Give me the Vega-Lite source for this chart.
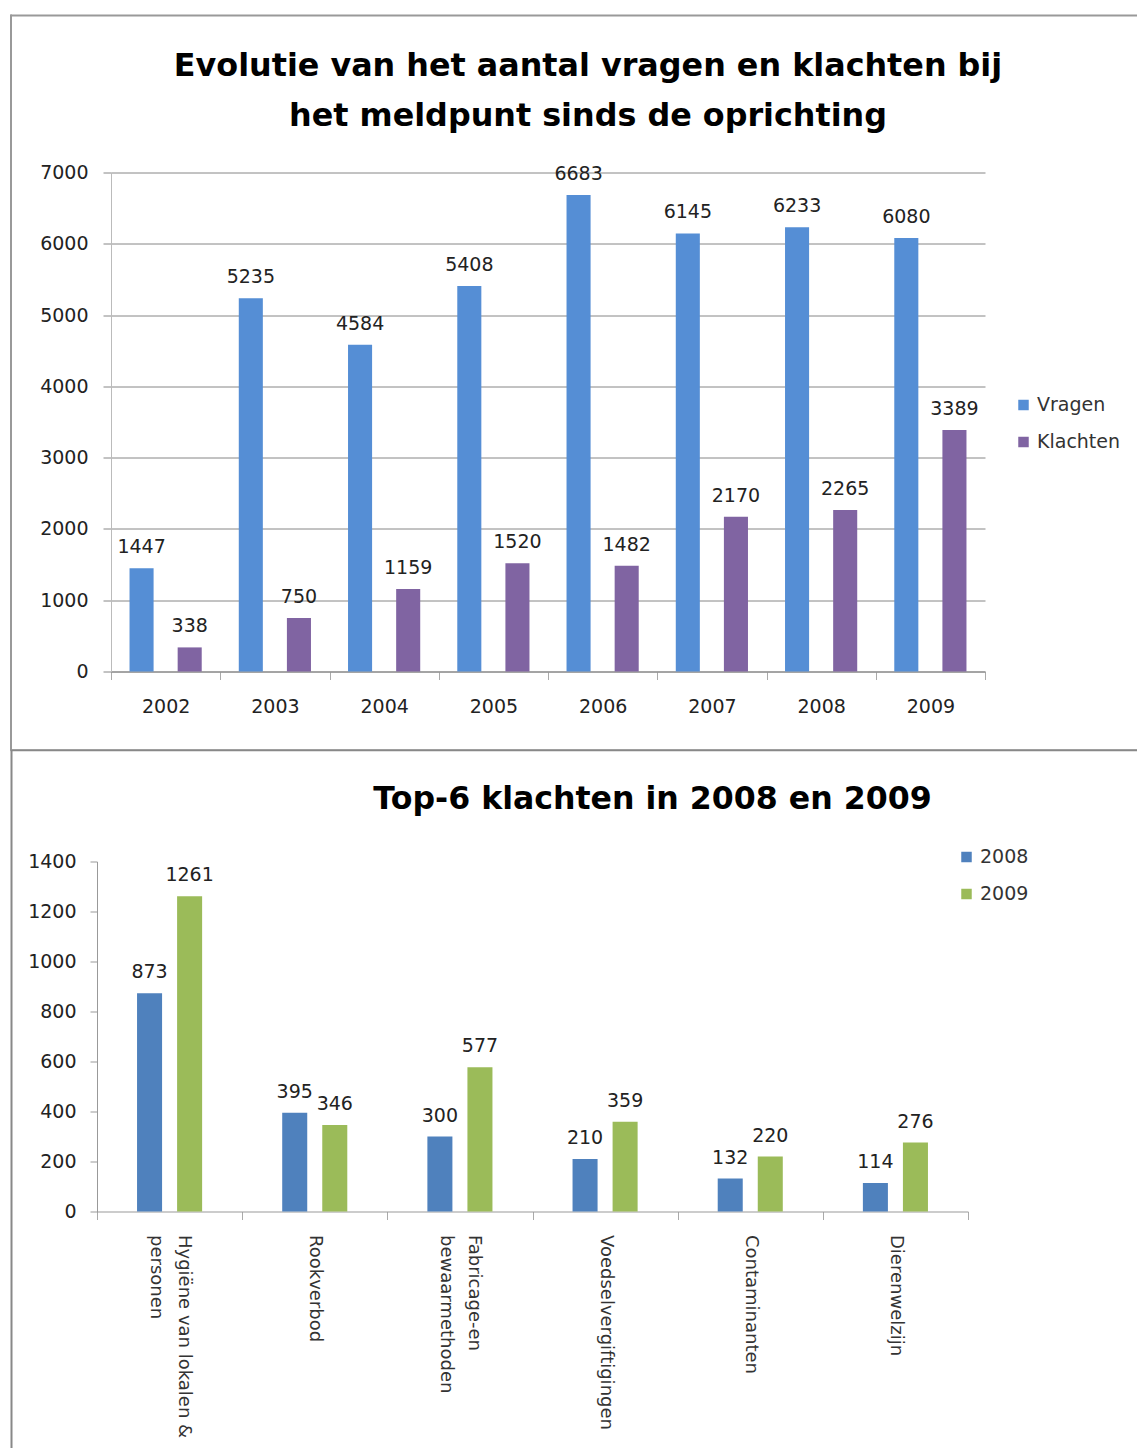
{
  "$schema": "https://vega.github.io/schema/vega-lite/v6.json",
  "background": "white",
  "padding": {"left": 0, "top": 13.5, "right": 0, "bottom": 0},
  "spacing": 0,
  "config": {
    "view": {"stroke": null},
    "axis": {"labelFont": "DejaVu Sans", "labelFontSize": 19, "labelColor": "#222", "title": null},
    "legend": {"labelFont": "DejaVu Sans", "labelFontSize": 19, "labelColor": "#333", "symbolType": "square", "symbolSize": 110, "symbolStrokeWidth": 0, "rowPadding": 17, "title": null},
    "title": {"font": "DejaVu Sans", "fontWeight": "bold", "color": "#000", "frame": "group"}
  },
  "resolve": {"scale": {"x": "independent", "y": "independent", "color": "independent", "xOffset": "independent"}},
  "vconcat": [
    {
      "width": 874,
      "height": 499,
      "title": {"text": ["Evolutie van het aantal vragen en klachten bij", "het meldpunt sinds de oprichting"], "fontSize": 31.8, "lineHeight": 50, "offset": -118.5, "dx": 40},
      "data": {"values": [
        {"jaar": "2002", "reeks": "Vragen", "aantal": 1447}, {"jaar": "2002", "reeks": "Klachten", "aantal": 338},
        {"jaar": "2003", "reeks": "Vragen", "aantal": 5235}, {"jaar": "2003", "reeks": "Klachten", "aantal": 750},
        {"jaar": "2004", "reeks": "Vragen", "aantal": 4584}, {"jaar": "2004", "reeks": "Klachten", "aantal": 1159},
        {"jaar": "2005", "reeks": "Vragen", "aantal": 5408}, {"jaar": "2005", "reeks": "Klachten", "aantal": 1520},
        {"jaar": "2006", "reeks": "Vragen", "aantal": 6683}, {"jaar": "2006", "reeks": "Klachten", "aantal": 1482},
        {"jaar": "2007", "reeks": "Vragen", "aantal": 6145}, {"jaar": "2007", "reeks": "Klachten", "aantal": 2170},
        {"jaar": "2008", "reeks": "Vragen", "aantal": 6233}, {"jaar": "2008", "reeks": "Klachten", "aantal": 2265},
        {"jaar": "2009", "reeks": "Vragen", "aantal": 6080}, {"jaar": "2009", "reeks": "Klachten", "aantal": 3389}
      ]},
      "resolve": {"scale": {"x": "independent", "y": "independent"}, "axis": {"x": "independent", "y": "independent"}},
      "layer": [
        {
          "encoding": {
            "x": {"field": "jaar", "type": "nominal", "scale": {"paddingInner": 0, "paddingOuter": 0},
                  "axis": {"orient": "bottom", "labelAngle": 0, "tickBand": "extent", "tickSize": 8, "tickColor": "#aaa", "domainColor": "#868686", "labelPadding": 18}},
            "xOffset": {"field": "reeks", "type": "nominal", "sort": ["Vragen", "Klachten"], "scale": {"paddingInner": 0.5, "paddingOuter": 0.385}},
            "y": {"field": "aantal", "type": "quantitative", "scale": {"domain": [0, 7000]},
                  "axis": {"orient": "left", "values": [0, 1000, 2000, 3000, 4000, 5000, 6000, 7000], "format": "d", "grid": true, "gridColor": "#868686", "tickSize": 8, "tickColor": "#868686", "domainColor": "#bbb", "labelPadding": 15, "minExtent": 111, "maxExtent": 111}}
          },
          "layer": [
            {"mark": {"type": "bar"},
             "encoding": {"color": {"field": "reeks", "type": "nominal", "sort": ["Vragen", "Klachten"],
                                    "scale": {"domain": ["Vragen", "Klachten"], "range": ["#558ED5", "#8064A2"]},
                                    "legend": {"orient": "none", "legendX": 903, "legendY": 223}}}},
            {"mark": {"type": "text", "baseline": "alphabetic", "dy": -15, "font": "DejaVu Sans", "fontSize": 19, "color": "#222"},
             "encoding": {"text": {"field": "aantal", "type": "quantitative", "format": "d"}}}
          ]
        },
        {
          "transform": [{"filter": "false"}],
          "mark": {"type": "point", "opacity": 0},
          "encoding": {
            "x": {"field": "aantal", "type": "quantitative", "scale": {"domain": [0, 1], "range": [0, 1127]},
                  "axis": {"orient": "top", "offset": 157.5, "position": -101, "labels": false, "ticks": false, "grid": false, "domainColor": "#999", "domainWidth": 2}},
            "y": {"field": "aantal", "type": "quantitative", "scale": {"domain": [0, 1], "range": [735.5, 0]},
                  "axis": {"orient": "left", "offset": 100.5, "position": -158.5, "labels": false, "ticks": false, "grid": false, "domainColor": "#999", "domainWidth": 2}}
          }
        },
        {
          "transform": [{"filter": "false"}],
          "mark": {"type": "point", "opacity": 0},
          "encoding": {
            "x": {"field": "aantal", "type": "quantitative", "scale": {"domain": [0, 1], "range": [0, 1127]},
                  "axis": {"orient": "bottom", "offset": 78, "position": -101, "labels": false, "ticks": false, "grid": false, "domainColor": "#888", "domainWidth": 1.5}},
            "y": {"field": "aantal", "type": "quantitative", "scale": {"domain": [0, 1]}, "axis": null}
          }
        }
      ]
    },
    {
      "width": 857,
      "height": 350,
      "title": {"text": "Top-6 klachten in 2008 en 2009", "fontSize": 31.6, "offset": -66, "dx": 113},
      "data": {"values": [
        {"categorie": "Hygiëne van lokalen & personen", "jaar": "2008", "aantal": 873}, {"categorie": "Hygiëne van lokalen & personen", "jaar": "2009", "aantal": 1261},
        {"categorie": "Rookverbod", "jaar": "2008", "aantal": 395}, {"categorie": "Rookverbod", "jaar": "2009", "aantal": 346},
        {"categorie": "Fabricage-en bewaarmethoden", "jaar": "2008", "aantal": 300}, {"categorie": "Fabricage-en bewaarmethoden", "jaar": "2009", "aantal": 577},
        {"categorie": "Voedselvergiftigingen", "jaar": "2008", "aantal": 210}, {"categorie": "Voedselvergiftigingen", "jaar": "2009", "aantal": 359},
        {"categorie": "Contaminanten", "jaar": "2008", "aantal": 132}, {"categorie": "Contaminanten", "jaar": "2009", "aantal": 220},
        {"categorie": "Dierenwelzijn", "jaar": "2008", "aantal": 114}, {"categorie": "Dierenwelzijn", "jaar": "2009", "aantal": 276}
      ]},
      "resolve": {"scale": {"x": "independent", "y": "independent"}, "axis": {"x": "independent", "y": "independent"}},
      "layer": [
        {
          "encoding": {
            "x": {"field": "categorie", "type": "nominal", "sort": null, "scale": {"paddingInner": 0, "paddingOuter": 0, "range": [-14, 857]},
                  "axis": {"orient": "bottom", "labelAngle": 90, "labelAlign": "left", "labelBaseline": "middle", "tickBand": "extent", "tickSize": 8, "tickColor": "#aaa", "domainColor": "#999", "labelPadding": 15, "labelLineHeight": 28, "labelFontSize": 18, "labelColor": "#333", "labelLimit": 300,
                           "labelOffset": {"condition": {"test": "datum.value == 'Hygiëne van lokalen & personen' || datum.value == 'Fabricage-en bewaarmethoden'", "value": 14}, "value": 0},
                           "labelExpr": "datum.label == 'Hygiëne van lokalen & personen' ? ['Hygiëne van lokalen &', 'personen'] : datum.label == 'Fabricage-en bewaarmethoden' ? ['Fabricage-en', 'bewaarmethoden'] : datum.label"}},
            "xOffset": {"field": "jaar", "type": "nominal", "sort": ["2008", "2009"], "scale": {"paddingInner": 0.375, "paddingOuter": 1.0}},
            "y": {"field": "aantal", "type": "quantitative", "scale": {"domain": [0, 1400]},
                  "axis": {"orient": "left", "values": [0, 200, 400, 600, 800, 1000, 1200, 1400], "format": "d", "grid": false, "offset": 14, "tickSize": 7, "tickColor": "#999", "domainColor": "#999", "labelPadding": 14, "minExtent": 97, "maxExtent": 97}}
          },
          "layer": [
            {"mark": {"type": "bar"},
             "encoding": {"color": {"field": "jaar", "type": "nominal", "sort": ["2008", "2009"],
                                    "scale": {"domain": ["2008", "2009"], "range": ["#4F81BD", "#9BBB59"]},
                                    "legend": {"orient": "none", "legendX": 846, "legendY": -14}}}},
            {"mark": {"type": "text", "baseline": "alphabetic", "dy": -15, "font": "DejaVu Sans", "fontSize": 19, "color": "#222"},
             "encoding": {"text": {"field": "aantal", "type": "quantitative", "format": "d"}}}
          ]
        },
        {
          "transform": [{"filter": "false"}],
          "mark": {"type": "point", "opacity": 0},
          "encoding": {
            "x": {"field": "aantal", "type": "quantitative", "scale": {"domain": [0, 1], "range": [0, 1127]},
                  "axis": {"orient": "top", "offset": 111.5, "position": -101, "labels": false, "ticks": false, "grid": false, "domainColor": "#888", "domainWidth": 1.5}},
            "y": {"field": "aantal", "type": "quantitative", "scale": {"domain": [0, 1], "range": [700, 0]},
                  "axis": {"orient": "left", "offset": 100, "position": -112, "labels": false, "ticks": false, "grid": false, "domainColor": "#888", "domainWidth": 2}}
          }
        }
      ]
    }
  ]
}
